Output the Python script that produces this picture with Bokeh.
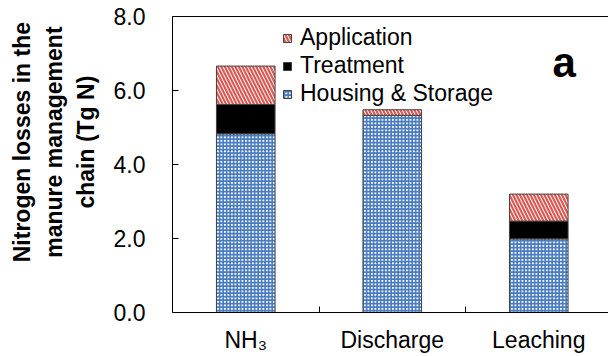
import math
from bokeh.plotting import figure
from bokeh.models import (ColumnDataSource, Range1d, FixedTicker, LinearAxis, Legend,
                          LegendItem, Label, PrintfTickFormatter)
from bokeh.embed import file_html
from bokeh.resources import INLINE

categories = ["NH₃", "Discharge", "Leaching"]
housing_storage = [4.83, 5.33, 1.99]
treatment = [0.79, 0.00, 0.48]
application = [1.04, 0.15, 0.73]
series_names = ["Housing & Storage", "Treatment", "Application"]
y_ticks = [0.0, 2.0, 4.0, 6.0, 8.0]
panel_letter = "a"
y_title_lines = ["Nitrogen losses in the", "manure management", "chain (Tg N)"]

FONT = "Liberation Sans"
FS = "23px"

xpos = [i + 0.5 for i in range(len(categories))]
source = ColumnDataSource(dict(x=xpos, housing=housing_storage,
                               treatment=treatment, application=application))

p = figure(width=608, height=356, output_backend="svg", toolbar_location=None,
           x_range=Range1d(0, 2.976), y_range=Range1d(0, 8),
           min_border_left=172, min_border_right=0, min_border_top=16,
           min_border_bottom=44, x_axis_type=None, y_axis_type=None)
p.outline_line_color = None
p.xgrid.visible = False
p.ygrid.visible = False
p.background_fill_color = "white"

renderers = p.vbar_stack(
    ["housing", "treatment", "application"], x="x", width=0.4, source=source,
    fill_color=["white", "black", "white"],
    hatch_pattern=["+", " ", "\\"],
    hatch_color=["#4a7cc0", "black", "#db5a55"],
    hatch_scale=[3.5, 6, 7],
    hatch_weight=[1.8, 1, 2.2],
    line_color="#404040", line_width=1)

# axes
xaxis = LinearAxis(ticker=FixedTicker(ticks=xpos, minor_ticks=[1, 2]))
xaxis.major_label_overrides = {x: c for x, c in zip(xpos, categories)}
xaxis.major_tick_line_color = None
xaxis.minor_tick_line_color = "black"
xaxis.minor_tick_in = 6
xaxis.minor_tick_out = 0
xaxis.major_label_standoff = 8
xaxis.major_label_text_font = FONT
xaxis.major_label_text_font_size = FS
xaxis.major_label_text_color = "black"
xaxis.axis_line_color = "black"
p.add_layout(xaxis, "below")

pad = "\u00a0" * 7
yaxis = LinearAxis(ticker=FixedTicker(ticks=y_ticks),
                   formatter=PrintfTickFormatter(format="%.1f"))
yaxis.major_tick_in = 6
yaxis.major_tick_out = 0
yaxis.minor_tick_line_color = None
yaxis.major_label_standoff = 27
yaxis.major_label_text_font = FONT
yaxis.major_label_text_font_size = FS
yaxis.major_label_text_color = "black"
yaxis.axis_line_color = "black"
yaxis.axis_label = "\n".join(pad + s for s in y_title_lines)
yaxis.axis_label_text_font = FONT
yaxis.axis_label_text_font_size = FS
yaxis.axis_label_text_font_style = "bold"
yaxis.axis_label_text_color = "black"
yaxis.axis_label_text_align = "center"
yaxis.axis_label_text_line_height = 1.23
yaxis.axis_label_standoff = 12
p.add_layout(yaxis, "left")

top = LinearAxis(ticker=FixedTicker(ticks=xpos))
top.major_label_overrides = {x: "" for x in xpos}
top.major_tick_line_color = None
top.minor_tick_line_color = None
top.major_tick_in = 0
top.major_tick_out = 0
top.major_label_standoff = 0
top.axis_line_color = "black"
p.add_layout(top, "above")

letter = Label(x=380, y=250, x_units="screen", y_units="screen", text=panel_letter,
               text_font=FONT, text_font_size="42px", text_font_style="bold",
               text_baseline="alphabetic", text_color="black")
p.add_layout(letter)

items = [LegendItem(label=series_names[i], renderers=[renderers[i]]) for i in [2, 1, 0]]
legend = Legend(items=items, location=(110, 205), padding=0, margin=0,
                spacing=1, glyph_width=10, glyph_height=10, label_height=25,
                label_standoff=8, label_text_font=FONT, label_text_font_size=FS,
                label_text_color="black", border_line_color=None,
                background_fill_alpha=0)
p.add_layout(legend, "center")

open("out.html", "w").write(file_html(p, INLINE))
